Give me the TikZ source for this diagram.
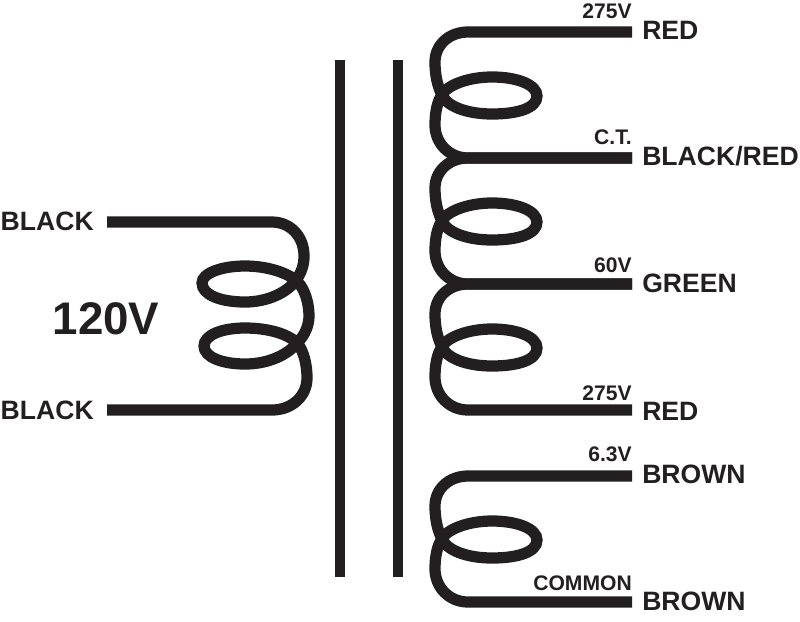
\documentclass[tikz,border=0pt]{standalone}
\usepackage{fontspec}
\setmainfont{Liberation Sans}
\usepackage{xcolor}
\definecolor{wire3}{HTML}{231f20}
\tikzset{
  wire/.style={line width=8pt, wire3},
  lead/.style={font=\bfseries\fontsize{18.9}{20}\selectfont, text=wire3, anchor=west, inner sep=0pt},
  tap/.style={font=\bfseries\fontsize{15}{17}\selectfont, text=wire3, anchor=east, inner sep=0pt},
  volts/.style={font=\bfseries\fontsize{32.5}{34}\selectfont, text=wire3, inner sep=0pt},
}
\begin{document}
\begin{tikzpicture}[x=0.025cm, y=-0.025cm]
    \useasboundingbox (0,0) rectangle (800,621);

    % Core
    \fill[wire3] (335,60) rectangle (345,577);
    \fill[wire3] (393,60) rectangle (403,577);

    % Primary winding
    \coordinate (priTop) at (107,222);
    \coordinate (priBot) at (107,410);
    \draw[wire] (priTop) -- (272,222)
      .. controls (290,222) and (304,236) .. (304,256)
      .. controls (304,266) and (301,273) .. (296,280)
      .. controls (288,292) and (268,302) .. (245,302)
      .. controls (221,302) and (202,295) .. (202,283)
      .. controls (202,273) and (222,266) .. (245,266)
      .. controls (266,266) and (287,272) .. (298,282)
      .. controls (305,290) and (309,303) .. (309,316)
      .. controls (309,325) and (305,335) .. (298,342)
      .. controls (288,355) and (268,364) .. (245,364)
      .. controls (222,364) and (204,357) .. (204,346)
      .. controls (204,335) and (222,328) .. (245,328)
      .. controls (266,328) and (288,333) .. (298,344)
      .. controls (304,352) and (307,365) .. (307,378)
      .. controls (307,396) and (292,410) .. (272,410) -- (priBot);
    \node[lead, anchor=east] (blackTop) at (94,221) {BLACK};
    \node[lead, anchor=east] (blackBot) at (94,410) {BLACK};
    \node[volts] (priVolts) at (106,319) {120V};

    % Secondary coils - same shape, moved down
    \foreach \dy/\name in {0/a, 126/b, 252/c, 444/d} {
      \begin{scope}[shift={(0,\dy)}]
        \coordinate (\name Top) at (632,32);
        \coordinate (\name Bot) at (632,158);
        \draw[wire] (\name Top) -- (468,32)
          .. controls (449,32) and (435,45) .. (435,62)
          .. controls (435,74) and (437,86) .. (443,97)
          .. controls (450,108) and (470,114) .. (492,114)
          .. controls (518,114) and (537,108) .. (537,96)
          .. controls (537,85) and (518,77) .. (492,77)
          .. controls (470,77) and (450,84) .. (443,93)
          .. controls (437,101) and (435,113) .. (435,125)
          .. controls (435,143) and (449,158) .. (468,158) -- (\name Bot);
      \end{scope}
    }

    % Right side labels
    \node[lead] (redTop) at (642,30) {RED};
    \node[lead] (blackRed) at (642,156) {BLACK/RED};
    \node[lead] (green) at (642,283) {GREEN};
    \node[lead] (redBot) at (642,411) {RED};
    \node[lead] (brownTop) at (642,474) {BROWN};
    \node[lead] (brownBot) at (642,601) {BROWN};

    \node[tap] (tapTop) at (632,11) {275V};
    \node[tap] (tapCT) at (632,137) {C.T.};
    \node[tap] (tapSixty) at (632,265) {60V};
    \node[tap] (tapBot) at (632,393) {275V};
    \node[tap] (tapSix) at (632,454) {6.3V};
    \node[tap] (tapCommon) at (632,583) {COMMON};
\end{tikzpicture}
\end{document}
